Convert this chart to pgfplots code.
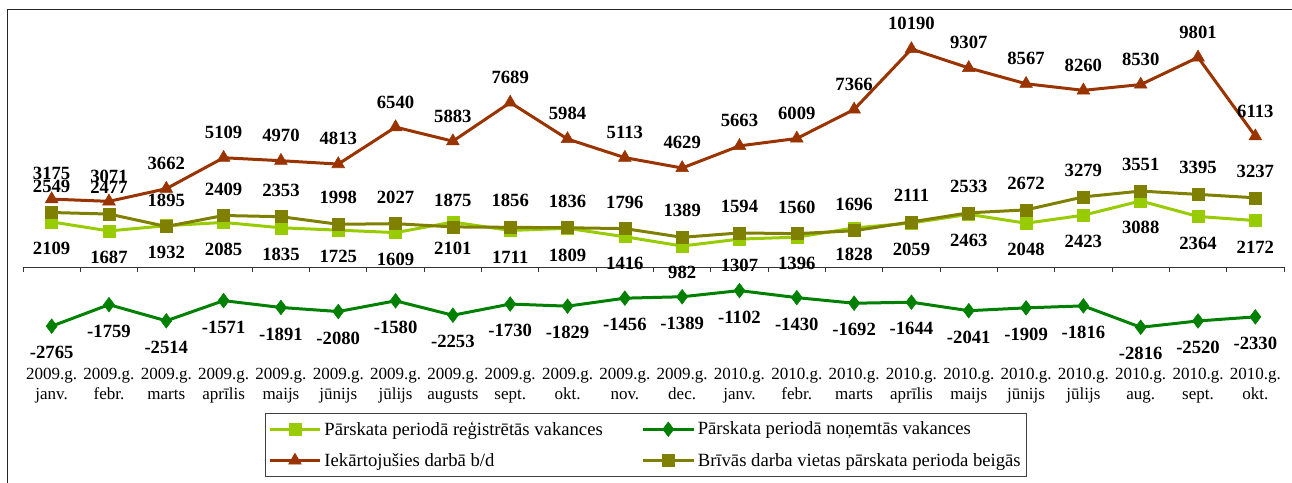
\documentclass[border=0pt]{standalone}
\usepackage{pgfplots}
\pgfplotsset{compat=1.18}
\usepackage{pgfplotstable}
\usepackage{fontspec}
\setmainfont{Liberation Serif}
\definecolor{cReg}{RGB}{153,204,0}
\definecolor{cRem}{RGB}{0,128,0}
\definecolor{cEmp}{RGB}{153,51,0}
\definecolor{cFree}{RGB}{128,128,0}

% x = month index (2009 janv. .. 2010 okt.)
\pgfplotstableread{
x  reg   rem   emp   free
0  2109  -2765 3175  2549
1  1687  -1759 3071  2477
2  1932  -2514 3662  1895
3  2085  -1571 5109  2409
4  1835  -1891 4970  2353
5  1725  -2080 4813  1998
6  1609  -1580 6540  2027
7  2101  -2253 5883  1875
8  1711  -1730 7689  1856
9  1809  -1829 5984  1836
10 1416  -1456 5113  1796
11 982   -1389 4629  1389
12 1307  -1102 5663  1594
13 1396  -1430 6009  1560
14 1828  -1692 7366  1696
15 2059  -1644 10190 2111
16 2463  -2041 9307  2533
17 2048  -1909 8567  2672
18 2423  -1816 8260  3279
19 3088  -2816 8530  3551
20 2364  -2520 9801  3395
21 2172  -2330 6113  3237
}\vac

\begin{document}
\begin{tikzpicture}
\useasboundingbox (0,0) rectangle (969pt,361.5pt);
\draw[black!85, line width=0.75pt] (5.25pt,-2pt) -- (5.25pt,354pt) -- (971pt,354pt);
\begin{axis}[
    at={(17.25pt,97.05pt)}, anchor=south west, scale only axis,
    width=945.75pt, height=256.7pt,
    xmin=-0.5, xmax=21.5, ymin=-4000, ymax=12000,
    axis line style={draw=none}, ytick=\empty,
    xtick={0,...,21}, major tick length=0pt,
    xticklabels={{2009.g.\\janv.},{2009.g.\\febr.},{2009.g.\\marts},{2009.g.\\aprīlis},
      {2009.g.\\maijs},{2009.g.\\jūnijs},{2009.g.\\jūlijs},{2009.g.\\augusts},
      {2009.g.\\sept.},{2009.g.\\okt.},{2009.g.\\nov.},{2009.g.\\dec.},
      {2010.g.\\janv.},{2010.g.\\febr.},{2010.g.\\marts},{2010.g.\\aprīlis},
      {2010.g.\\maijs},{2010.g.\\jūnijs},{2010.g.\\jūlijs},{2010.g.\\aug.},
      {2010.g.\\sept.},{2010.g.\\okt.}},
    xticklabel style={align=center, font=\rmfamily\fontsize{12.75}{15}\selectfont, inner sep=0pt, yshift=-11.5pt},
    clip=false,
    every axis plot/.append style={line width=2.25pt},
    point meta=explicit symbolic,
    nodes near coords,
    every node near coord/.append style={font=\rmfamily\fontsize{14}{16}\selectfont\bfseries, inner sep=0pt, text=black},
    legend columns=2,
    legend cell align=left,
    legend image code/.code={\draw[mark repeat=2,mark phase=2] plot coordinates {(0pt,0pt)(19pt,0pt)(38pt,0pt)};},
    legend style={at={(0.1919,-0.1765)}, anchor=north west, draw=black!75, line width=0.75pt,
      font=\rmfamily\fontsize{14}{16}\selectfont, inner xsep=2pt, inner ysep=4pt, row sep=8pt,
      /tikz/every even column/.append style={column sep=27pt}},
  ]
  \draw[black!80, line width=0.75pt] (axis cs:-0.5,0) -- (axis cs:21.5,0);
  \pgfplotsinvokeforeach{-0.5,0.5,...,21.5}{
    \draw[black!80, line width=0.75pt] (axis cs:#1,0) -- ([yshift=-3.75pt]axis cs:#1,0);
  }
  \addplot[cReg, mark=square*, mark size=4.5pt, mark options={solid, line width=0.4pt},
    every node near coord/.append style={anchor=north, yshift=-15pt}]
    table[x=x, y=reg, meta=reg] {\vac};
  \addlegendentry{Pārskata periodā reģistrētās vakances}
  \addplot[cRem, mark=diamond*, mark size=5.5pt, mark options={solid, line width=0.4pt},
    every node near coord/.append style={anchor=north, yshift=-15pt}]
    table[x=x, y=rem, meta=rem] {\vac};
  \addlegendentry{Pārskata periodā noņemtās vakances}
  \addplot[cEmp, mark=triangle*, mark size=5.5pt, mark options={solid, line width=0.4pt},
    every node near coord/.append style={anchor=south, yshift=14pt}]
    table[x=x, y=emp, meta=emp] {\vac};
  \addlegendentry{Iekārtojušies darbā b/d}
  \addplot[cFree, mark=square*, mark size=4.5pt, mark options={solid, line width=0.4pt},
    every node near coord/.append style={anchor=south, yshift=15pt}]
    table[x=x, y=free, meta=free] {\vac};
  \addlegendentry{Brīvās darba vietas pārskata perioda beigās}
\end{axis}
\end{tikzpicture}
\end{document}
